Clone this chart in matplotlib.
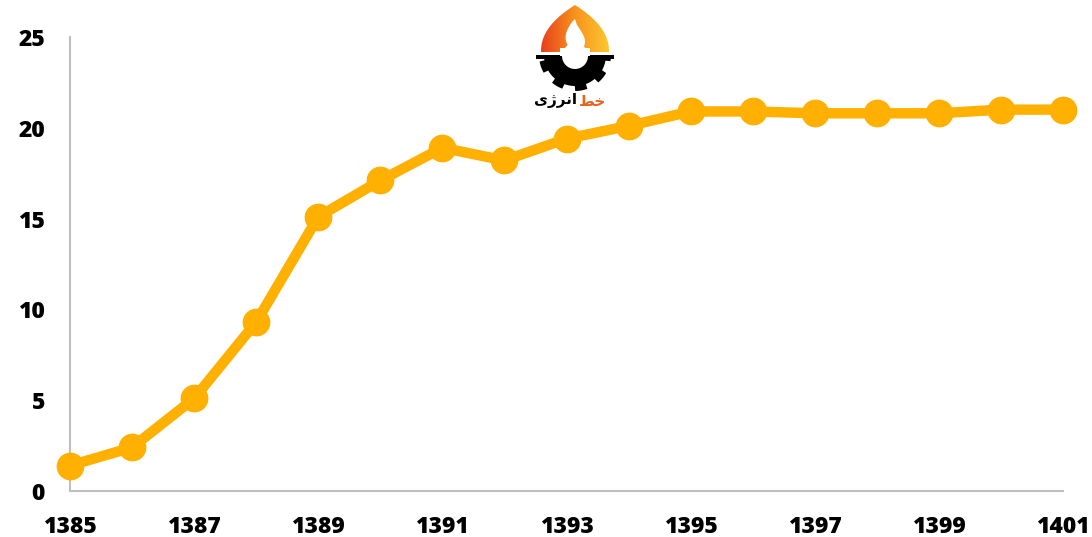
import numpy as np
import matplotlib
matplotlib.use("Agg")
import matplotlib.pyplot as plt
from matplotlib.patches import Polygon, Circle, Rectangle

years = [1385, 1386, 1387, 1388, 1389, 1390, 1391, 1392, 1393,
         1394, 1395, 1396, 1397, 1398, 1399, 1400, 1401]
values = [1.4, 2.4, 5.1, 9.3, 15.1, 17.1, 18.9, 18.2, 19.4,
          20.1, 20.9, 20.9, 20.8, 20.8, 20.8, 21.0, 21.0]
xticks = years[::2]
yticks = [0, 5, 10, 15, 20, 25]

LINE = "#FFB000"
GRID = "#BFBFBF"
W, H = 1092, 537

fig = plt.figure(figsize=(W / 100, H / 100), dpi=100)
ax = fig.add_axes([70 / W, 1 - 491 / H, (1063 - 70) / W, (491 - 37) / H])
ax.plot(years, values, color=LINE, lw=7.5, marker="o", ms=19,
        solid_capstyle="round", clip_on=False, zorder=3)
ax.set_xlim(1385, 1401)
ax.set_ylim(0, 25)
ax.set_xticks(xticks)
ax.set_yticks(yticks)
for s in ["top", "right"]:
    ax.spines[s].set_visible(False)
for s in ["left", "bottom"]:
    ax.spines[s].set_color(GRID)
    ax.spines[s].set_linewidth(1.5)
ax.tick_params(length=0)
ax.tick_params(axis="y", pad=18)
ax.tick_params(axis="x", pad=17)
for lab in ax.get_xticklabels() + ax.get_yticklabels():
    lab.set_fontfamily("Open Sans")
    lab.set_fontweight("heavy")
    lab.set_fontsize(16.5)

# --- logo (drawn in pixel coordinates) ---
lg = fig.add_axes([528 / W, 1 - 118 / H, 94 / W, 118 / H])
lg.set_xlim(528, 622)
lg.set_ylim(118, 0)
lg.axis("off")

# onion dome with red->yellow gradient
t = np.linspace(0, 1, 60)
lx = 541 + 34 * t ** 2.2
ly = 52 - 47 * t
pts = np.r_[np.c_[lx, ly], np.c_[2 * 575 - lx[::-1], ly[::-1]]]
dome = Polygon(pts, closed=True, fc="none", ec="none")
lg.add_patch(dome)
grad = np.linspace(0, 1, 100).reshape(1, -1)
cmap = matplotlib.colors.LinearSegmentedColormap.from_list(
    "g", ["#E8401C", "#F7941D", "#FDC82F"])
im = lg.imshow(grad, cmap=cmap, extent=[541, 610, 52, 5], aspect="auto", zorder=1)
im.set_clip_path(dome)

# white flame
ft = np.linspace(0, 1, 30)
fx = 575 - 11 * np.sin(ft * np.pi) ** 0.8 * (1 - ft * 0.3)
fy = 53 - 34 * ft
rx = 577 + 11 * np.sin(ft[::-1] * np.pi) ** 0.8 * (1 - ft[::-1] * 0.6)
flame = np.r_[np.c_[fx, fy], np.c_[rx, fy[::-1] + 6 * ft[::-1]]]
lg.add_patch(Polygon(flame, closed=True, fc="white", ec="none", zorder=2))

# black gear (lower half)
ang = np.linspace(0, np.pi, 240)
r = 31 + 5 * (np.cos(ang * 9) > 0)
gx = 575 + r * np.cos(ang)
gy = 55 + r * np.sin(ang)
lg.add_patch(Polygon(np.c_[gx, gy], closed=True, fc="black", ec="none", zorder=2))
lg.add_patch(Rectangle((536, 55), 78, 4, fc="black", ec="none", zorder=2))
lg.add_patch(Circle((575, 56), 13, fc="white", ec="none", zorder=3))
lg.add_patch(Rectangle((560, 48), 30, 8, fc="white", ec="none", zorder=3))

# logo caption: pre-shaped Persian text (visual order)
lg.text(577, 101, "\uFBFC\uFB8A\uFEAE\uFEE7\uFE8D", ha="right", va="center",
        fontsize=11, fontweight="bold", color="black", family=["DejaVu Sans"])
lg.text(579, 101, "\uFEC2\uFEA7", ha="left", va="center",
        fontsize=11, fontweight="bold", color="#E8631C", family=["DejaVu Sans"])

fig.savefig("out.png", dpi=100)
